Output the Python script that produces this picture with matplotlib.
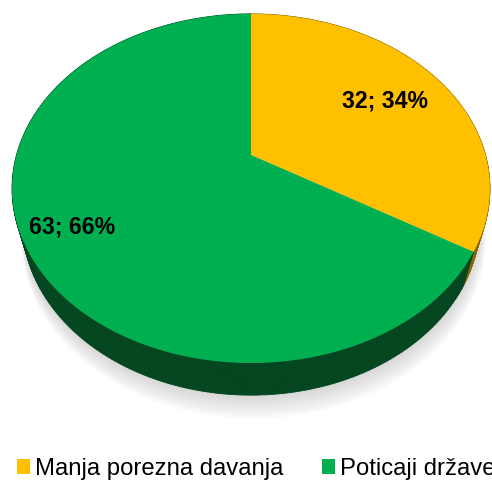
import numpy as np
import matplotlib.pyplot as plt
from matplotlib.patches import Patch
from matplotlib.collections import PolyCollection

plt.rcParams['font.family'] = ['Liberation Sans', 'DejaVu Sans']

# data
categories = ["Manja porezna davanja", "Poticaji države"]
values = [32, 63]
top_colors = ["#FFC000", "#00B050"]
side_colors = ["#8A6700", "#03461F"]

# tilted disc seen in perspective (pixel layout)
CX, CY = 251, 155
K = 234.5
ELEV = np.radians(45.8)
DIST = 3.64
THICK = 0.224
label_r = [0.7, 0.81]


def project(theta, r=1.0, h=0.0):
    x = r * np.cos(theta)
    z = r * np.sin(theta)
    Y = h * np.cos(ELEV) + z * np.sin(ELEV)
    Z = DIST + z * np.cos(ELEV) - h * np.sin(ELEV)
    return CX + K * DIST * x / Z, CY - K * DIST * Y / Z


fig = plt.figure(figsize=(4.92, 4.8), dpi=100)
ax = fig.add_axes([0, 0, 1, 1])
ax.set_xlim(0, 492)
ax.set_ylim(480, 0)
ax.axis('off')

fracs = np.array(values) / sum(values)
edges = np.pi / 2 - 2 * np.pi * np.concatenate([[0], np.cumsum(fracs)])

# soft shadow under the pie
tt = np.linspace(0, 2 * np.pi, 400)
for j in range(10):
    sx, sy = project(tt, r=1.0 + j * 0.004, h=-THICK - j * 0.012)
    ax.fill(sx + j * 0.3, sy, color='#808080', alpha=0.035, lw=0)

# side of the pie, drawn back to front
quads, qcols, depth = [], [], []
for i in range(len(values)):
    t = np.linspace(edges[i], edges[i + 1], 300)
    tx, ty = project(t)
    bx, by = project(t, h=-THICK)
    for k in range(len(t) - 1):
        quads.append([(tx[k], ty[k]), (tx[k + 1], ty[k + 1]),
                      (bx[k + 1], by[k + 1]), (bx[k], by[k])])
        qcols.append(side_colors[i])
        depth.append(np.sin(t[k]))
order = np.argsort(depth)[::-1]
pc = PolyCollection([quads[o] for o in order],
                    facecolors=[qcols[o] for o in order],
                    edgecolors=[qcols[o] for o in order], linewidths=0.6)
ax.add_collection(pc)

# top face
cx0, cy0 = project(0.0, r=0.0)
for i in range(len(values)):
    t = np.linspace(edges[i], edges[i + 1], 300)
    tx, ty = project(t)
    ax.fill(np.r_[cx0, tx], np.r_[cy0, ty], color=top_colors[i], lw=0)

# data labels
total = sum(values)
for i, v in enumerate(values):
    mid = (edges[i] + edges[i + 1]) / 2
    lx, ly = project(mid, r=label_r[i])
    ax.text(lx, ly, f"{v}; {round(100 * v / total)}%", ha='center',
            va='center', fontsize=16.6, fontweight='bold', color='black')

handles = [Patch(facecolor=c, edgecolor='none') for c in top_colors]
fig.legend(handles, categories, loc='center left',
           bbox_to_anchor=(17 / 492, 1 - 469 / 480), ncol=2, frameon=False,
           fontsize=17.2, handlelength=0.55, handleheight=0.55,
           handletextpad=0.22, columnspacing=1.6, borderpad=0,
           borderaxespad=0)

fig.savefig('out.png', dpi=100)
